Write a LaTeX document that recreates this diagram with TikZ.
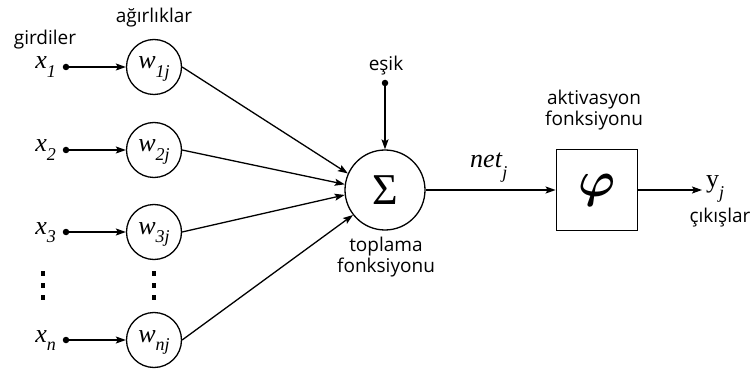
\documentclass[tikz,border=0pt]{standalone}
\usepackage{graphicx}
\usepackage{fontspec}
\setmainfont{Liberation Serif}
\newfontfamily\labelfont{Open Sans}
\usetikzlibrary{arrows.meta}

% italic symbol with a lowered italic index
\newcommand{\isub}[2]{\textit{#1}\raisebox{-0.33em}{\fontsize{18}{18}\selectfont\textit{#2}}}

\begin{document}
\begin{tikzpicture}[x=1pt,y=-1pt,
  wnode/.style={circle, draw, line width=1.3pt, minimum size=55pt, inner sep=0pt,
    font=\fontsize{26}{26}\selectfont, text height=12pt, text depth=8pt},
  link/.style={line width=1.3pt, -{Stealth[length=10pt,width=7pt,inset=2pt]}},
  lbl/.style={font=\labelfont\fontsize{19}{21}\selectfont, align=center, inner sep=0pt},
  sym/.style={font=\fontsize{26}{26}\selectfont, inner sep=0pt},
  src/.style={circle, fill, inner sep=0pt, minimum size=6.5pt},
]
\useasboundingbox (0,0) rectangle (751,371);

% column headings
\node[lbl] (hin) at (45,40) {girdiler};
\node[lbl] (hw) at (154,18) {ağırlıklar};

% inputs, weights and their links
\foreach \i/\y/\s in {1/67/1, 2/150/2, 3/232/3, n/340/n}{
  \node[src] (d\i) at (66,\y) {};
  \node[sym, anchor=base east] (x\i) at (56,\y+2) {\isub{x}{\s}};
  \node[wnode] (w\i) at (154,\y) {\isub{w}{\s j}};
  \draw[link] (d\i) -- (w\i);
}

% vertical ellipses
\foreach \xx in {43,154}
  \foreach \yy in {273,285,297}
    \fill (\xx-2,\yy-2.5) rectangle (\xx+2,\yy+2.5);

% summation unit
\node[circle, draw, line width=1.3pt, minimum size=80pt, inner sep=0pt,
      font=\fontsize{44}{44}\selectfont] (sig) at (385,190) {Σ};
\draw[link] (w1.east) -- (sig.156);
\draw[link] (w2.east) -- (sig.172);
\draw[link] (w3.east) -- (sig.187);
\draw[link] (wn.east) -- (sig.218);

% threshold
\node[lbl] (th) at (386,66) {eşik};
\node[src] (b) at (385,83) {};
\draw[link] (b) -- (sig);

\node[lbl] (sum) at (386,257) {toplama\\fonksiyonu};

% activation unit
\node[draw, line width=1.8pt, minimum size=81pt, inner sep=0pt,
      font=\fontsize{20}{20}\selectfont] (act) at (597,190) {\scalebox{2.4}{\boldmath$\varphi$}};
\node[lbl] (acth) at (594,110) {aktivasyon\\fonksiyonu};
\draw[link] (sig) -- (act);
\node[sym, anchor=base west] (net) at (470,168) {\textit{net}\raisebox{-0.42em}{\fontsize{18}{18}\selectfont\textit{j}}};

% output
\coordinate (out) at (702,190);
\draw[link] (act) -- (out);
\node[sym, anchor=base west] (y) at (706,188) {y\raisebox{-0.42em}{\fontsize{18}{18}\selectfont\textit{j}}};
\node[lbl] (outh) at (720,218) {çıkışlar};
\end{tikzpicture}
\end{document}
